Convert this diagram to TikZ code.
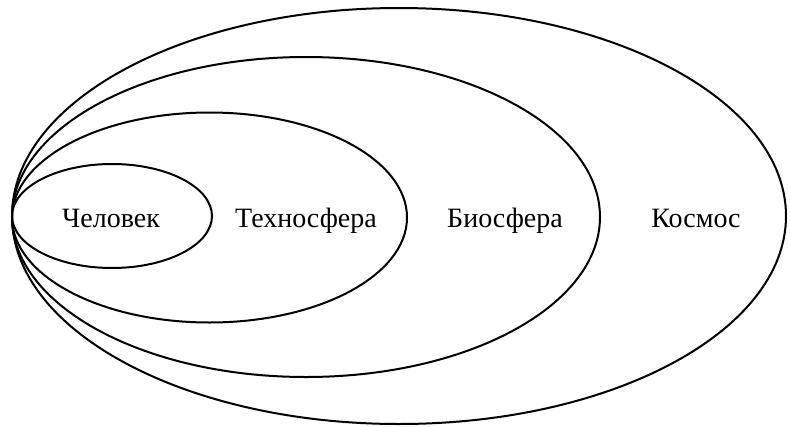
\documentclass[tikz,border=0pt]{standalone}
\usepackage{fontspec}
\setmainfont{Liberation Serif}
\begin{document}
\begin{tikzpicture}[x=1pt,y=-1pt,
  sphere/.style={draw=black,line width=2pt},
  lbl/.style={font=\fontsize{28}{30}\selectfont,inner sep=0pt,anchor=base}]
\useasboundingbox (0,0) rectangle (790,426);
\draw[sphere] (399,216) ellipse [x radius=387,y radius=208];
\draw[sphere] (306,217) ellipse [x radius=294,y radius=160];
\draw[sphere] (209.5,217.5) ellipse [x radius=197.5,y radius=105];
\draw[sphere] (112,216) ellipse [x radius=100,y radius=52];
\node[lbl] (chel) at (111,227) {Человек};
\node[lbl] (tech) at (306,227) {Техносфера};
\node[lbl] (bio) at (505,227) {Биосфера};
\node[lbl] (kosm) at (696,227) {Космос};
\end{tikzpicture}
\end{document}
